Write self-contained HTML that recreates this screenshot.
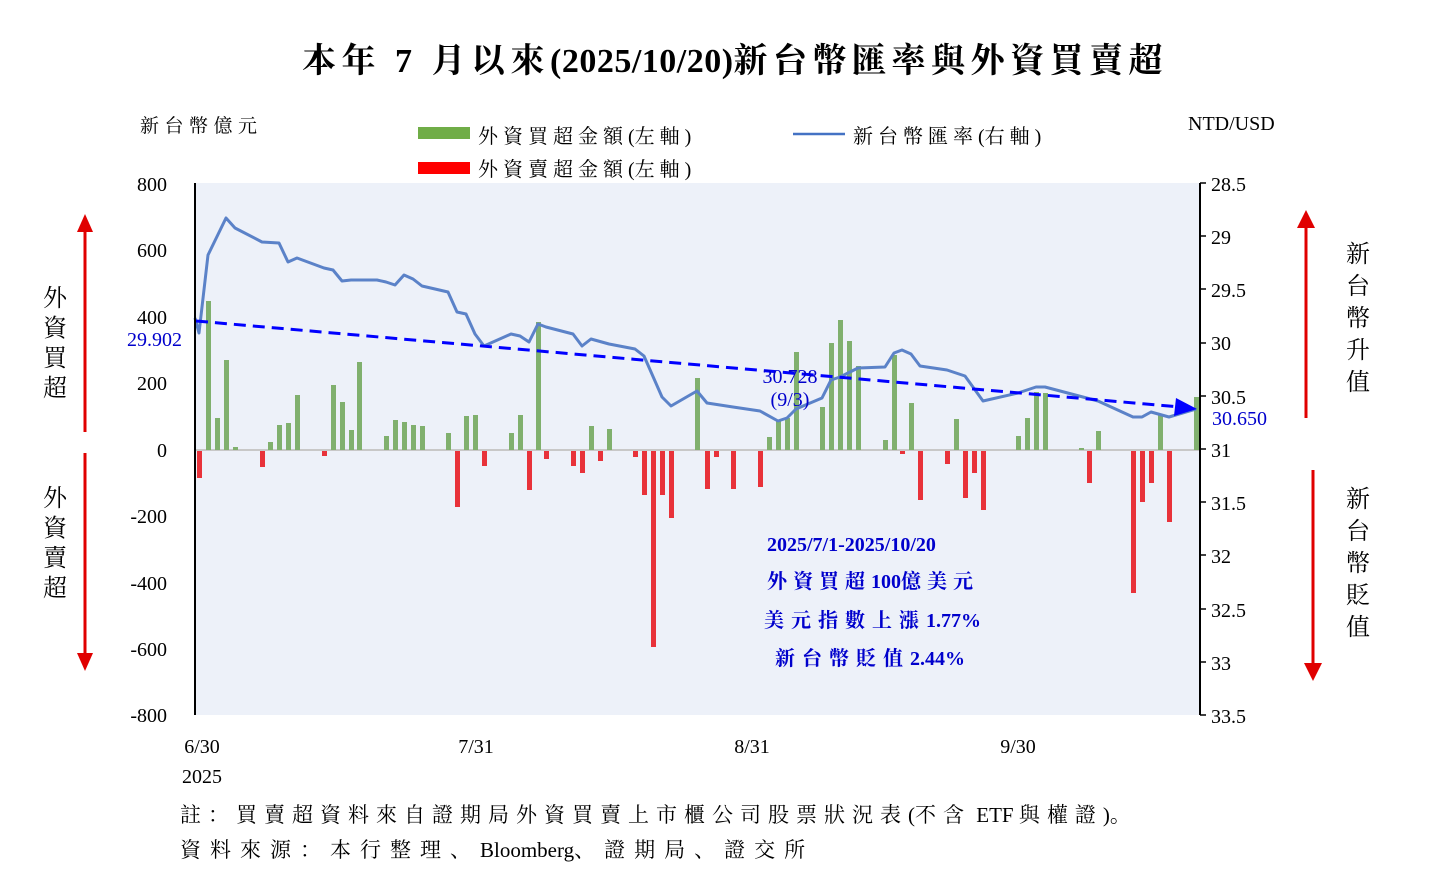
<!DOCTYPE html>
<html><head><meta charset="utf-8"><style>
html,body{margin:0;padding:0;background:#fff;}
svg{display:block;}
.s{font-family:"Liberation Serif","Noto Serif CJK SC","Noto Sans CJK TC",serif;}
</style></head><body>
<svg width="1432" height="891" viewBox="0 0 1432 891" xmlns="http://www.w3.org/2000/svg" class="s">
<text x="302" y="72" font-size="34" font-weight="bold" fill="#000"><tspan letter-spacing="5.5">本年 7 月以來</tspan><tspan letter-spacing="0.5">(2025/10/20)</tspan><tspan letter-spacing="5.5">新台幣匯率與外資買賣超</tspan></text>
<text x="140" y="132" font-size="19" fill="#000" letter-spacing="5.5">新台幣億元</text>
<text x="1188" y="130" font-size="20" fill="#000">NTD/USD</text>
<rect x="418" y="127" width="52" height="12" fill="#70ad47"/>
<text x="478" y="143" font-size="20"><tspan letter-spacing="5">外資買超金額</tspan>(<tspan letter-spacing="5">左軸</tspan>)</text>
<rect x="418" y="162" width="52" height="12" fill="#ff0000"/>
<text x="478" y="176" font-size="20"><tspan letter-spacing="5">外資賣超金額</tspan>(<tspan letter-spacing="5">左軸</tspan>)</text>
<line x1="793" y1="134" x2="845" y2="134" stroke="#4472c4" stroke-width="2.5"/>
<text x="853" y="143" font-size="20"><tspan letter-spacing="5">新台幣匯率</tspan>(<tspan letter-spacing="5">右軸</tspan>)</text>
<rect x="196" y="183" width="1003" height="532" fill="#edf1f9"/>
<line x1="196" y1="450" x2="1199" y2="450" stroke="#c8c8c8" stroke-width="2"/>
<g fill="#80b06e">
<rect x="206" y="301" width="5" height="149"/><rect x="215" y="418" width="5" height="32"/><rect x="224" y="360" width="5" height="90"/><rect x="233" y="447" width="5" height="3"/>
<rect x="268" y="442" width="5" height="8"/><rect x="277" y="425" width="5" height="25"/><rect x="286" y="423" width="5" height="27"/><rect x="295" y="395" width="5" height="55"/>
<rect x="331" y="385" width="5" height="65"/><rect x="340" y="402" width="5" height="48"/><rect x="349" y="430" width="5" height="20"/><rect x="357" y="362" width="5" height="88"/>
<rect x="384" y="436" width="5" height="14"/><rect x="393" y="420" width="5" height="30"/><rect x="402" y="422" width="5" height="28"/><rect x="411" y="425" width="5" height="25"/><rect x="420" y="426" width="5" height="24"/>
<rect x="446" y="433" width="5" height="17"/><rect x="464" y="416" width="5" height="34"/><rect x="473" y="415" width="5" height="35"/><rect x="509" y="433" width="5" height="17"/><rect x="518" y="415" width="5" height="35"/>
<rect x="536" y="322" width="5" height="128"/><rect x="589" y="426" width="5" height="24"/><rect x="607" y="429" width="5" height="21"/>
<rect x="695" y="378" width="5" height="72"/><rect x="767" y="437" width="5" height="13"/><rect x="776" y="420" width="5" height="30"/><rect x="785" y="418" width="5" height="32"/><rect x="794" y="352" width="5" height="98"/>
<rect x="820" y="407" width="5" height="43"/><rect x="829" y="343" width="5" height="107"/><rect x="838" y="320" width="5" height="130"/><rect x="847" y="341" width="5" height="109"/><rect x="856" y="366" width="5" height="84"/>
<rect x="883" y="440" width="5" height="10"/><rect x="892" y="355" width="5" height="95"/><rect x="909" y="403" width="5" height="47"/><rect x="954" y="419" width="5" height="31"/>
<rect x="1016" y="436" width="5" height="14"/><rect x="1025" y="418" width="5" height="32"/><rect x="1034" y="392" width="5" height="58"/><rect x="1043" y="393" width="5" height="57"/>
<rect x="1079" y="448" width="5" height="2"/><rect x="1096" y="431" width="5" height="19"/><rect x="1158" y="415" width="5" height="35"/><rect x="1194" y="397" width="5" height="53"/>
</g>
<g fill="#e8323a">
<rect x="197" y="451" width="5" height="27"/><rect x="260" y="451" width="5" height="16"/><rect x="322" y="451" width="5" height="5"/>
<rect x="455" y="451" width="5" height="56"/><rect x="482" y="451" width="5" height="15"/><rect x="527" y="451" width="5" height="39"/><rect x="544" y="451" width="5" height="8"/>
<rect x="571" y="451" width="5" height="15"/><rect x="580" y="451" width="5" height="22"/><rect x="598" y="451" width="5" height="10"/><rect x="633" y="451" width="5" height="6"/>
<rect x="642" y="451" width="5" height="44"/><rect x="651" y="451" width="5" height="196"/><rect x="660" y="451" width="5" height="44"/><rect x="669" y="451" width="5" height="67"/>
<rect x="705" y="451" width="5" height="38"/><rect x="714" y="451" width="5" height="6"/><rect x="731" y="451" width="5" height="38"/><rect x="758" y="451" width="5" height="36"/>
<rect x="900" y="451" width="5" height="3"/><rect x="918" y="451" width="5" height="49"/><rect x="945" y="451" width="5" height="13"/><rect x="963" y="451" width="5" height="47"/>
<rect x="972" y="451" width="5" height="22"/><rect x="981" y="451" width="5" height="59"/><rect x="1087" y="451" width="5" height="32"/>
<rect x="1131" y="451" width="5" height="142"/><rect x="1140" y="451" width="5" height="51"/><rect x="1149" y="451" width="5" height="32"/><rect x="1167" y="451" width="5" height="71"/>
</g>
<polyline fill="none" stroke="#5b82c8" stroke-width="3" stroke-linejoin="round" points="195,318 199,333 208,255 226,218 235,228 262,242 279,243 288,262 297,258 324,268 333,270 342,281 351,280 377,280 386,282 395,285 404,275 413,279 422,286 448,292 457,312 466,314 475,334 484,346 511,334 520,336 529,342 538,324 546,327 573,334 582,346 591,339 609,344 635,349 644,356 662,397 671,406 690,395 697,391 707,403 733,407 760,411 778,421 787,418 796,409 822,398 831,380 840,377 858,368 885,367 894,353 902,350 911,354 920,366 947,370 965,376 983,401 1018,393 1036,387 1045,387 1098,401 1133,417 1142,417 1151,412 1169,417 1196,409"/>
<line x1="196" y1="321" x2="1180" y2="407" stroke="#0000ff" stroke-width="3" stroke-dasharray="12,7"/>
<polygon points="1197,409 1176,398 1174,416" fill="#0000ff"/>
<text x="127" y="346" font-size="20" fill="#0000cc">29.902</text>
<text x="1212" y="425" font-size="20" fill="#0000cc">30.650</text>
<text x="790" y="383" font-size="20" fill="#0000cc" text-anchor="middle">30.728</text>
<text x="790" y="406" font-size="20" fill="#0000cc" text-anchor="middle">(9/3)</text>
<g font-size="20" font-weight="bold" fill="#0000cc">
<text x="767" y="551">2025/7/1-2025/10/20</text>
<text x="767" y="588"><tspan letter-spacing="6">外資買超</tspan>100<tspan letter-spacing="6">億美元</tspan></text>
<text x="764" y="627"><tspan letter-spacing="7">美元指數上漲</tspan>1.77%</text>
<text x="775" y="665"><tspan letter-spacing="7">新台幣貶值</tspan>2.44%</text>
</g>
<line x1="195" y1="183" x2="195" y2="715" stroke="#000" stroke-width="2"/>
<line x1="1200" y1="183" x2="1200" y2="715" stroke="#000" stroke-width="2"/>
<g stroke="#000" stroke-width="1.5">
<line x1="1200" y1="183" x2="1206" y2="183"/><line x1="1200" y1="236" x2="1206" y2="236"/><line x1="1200" y1="289" x2="1206" y2="289"/><line x1="1200" y1="343" x2="1206" y2="343"/><line x1="1200" y1="396" x2="1206" y2="396"/><line x1="1200" y1="449" x2="1206" y2="449"/><line x1="1200" y1="502" x2="1206" y2="502"/><line x1="1200" y1="555" x2="1206" y2="555"/><line x1="1200" y1="609" x2="1206" y2="609"/><line x1="1200" y1="662" x2="1206" y2="662"/><line x1="1200" y1="715" x2="1206" y2="715"/>
</g>
<g font-size="20" text-anchor="end">
<text x="167" y="191">800</text><text x="167" y="257">600</text><text x="167" y="324">400</text><text x="167" y="390">200</text><text x="167" y="457">0</text><text x="167" y="523">-200</text><text x="167" y="590">-400</text><text x="167" y="656">-600</text><text x="167" y="722">-800</text>
</g>
<g font-size="20">
<text x="1211" y="191">28.5</text><text x="1211" y="244">29</text><text x="1211" y="297">29.5</text><text x="1211" y="350">30</text><text x="1211" y="404">30.5</text><text x="1211" y="457">31</text><text x="1211" y="510">31.5</text><text x="1211" y="563">32</text><text x="1211" y="617">32.5</text><text x="1211" y="670">33</text><text x="1211" y="723">33.5</text>
</g>
<g font-size="20" text-anchor="middle">
<text x="202" y="753">6/30</text><text x="202" y="783">2025</text><text x="476" y="753">7/31</text><text x="752" y="753">8/31</text><text x="1018" y="753">9/30</text>
</g>
<g font-size="24" text-anchor="middle">
<text x="55" y="306">外</text><text x="55" y="336">資</text><text x="55" y="366">買</text><text x="55" y="396">超</text>
<text x="55" y="506">外</text><text x="55" y="536">資</text><text x="55" y="566">賣</text><text x="55" y="596">超</text>
<text x="1358" y="262">新</text><text x="1358" y="294">台</text><text x="1358" y="326">幣</text><text x="1358" y="358">升</text><text x="1358" y="390">值</text>
<text x="1358" y="507">新</text><text x="1358" y="539">台</text><text x="1358" y="571">幣</text><text x="1358" y="603">貶</text><text x="1358" y="635">值</text>
</g>
<g fill="#e00000" stroke="#e00000">
<line x1="85" y1="230" x2="85" y2="432" stroke-width="3"/><polygon points="85,214 77,232 93,232" stroke="none"/>
<line x1="85" y1="453" x2="85" y2="655" stroke-width="3"/><polygon points="85,671 77,653 93,653" stroke="none"/>
<line x1="1306" y1="226" x2="1306" y2="418" stroke-width="3"/><polygon points="1306,210 1297,228 1315,228" stroke="none"/>
<line x1="1313" y1="470" x2="1313" y2="664" stroke-width="3"/><polygon points="1313,681 1304,663 1322,663" stroke="none"/>
</g>
<text x="180" y="822" font-size="21"><tspan letter-spacing="7">註：買賣超資料來自證期局外資買賣上市櫃公司股票狀況表</tspan>(<tspan letter-spacing="7">不含</tspan> ETF <tspan letter-spacing="7">與權證</tspan>)<tspan letter-spacing="7">。</tspan></text>
<text x="180" y="857" font-size="21"><tspan letter-spacing="9">資料來源：本行整理、</tspan>Bloomberg<tspan letter-spacing="9">、證期局、證交所</tspan></text>
</svg>
</body></html>
